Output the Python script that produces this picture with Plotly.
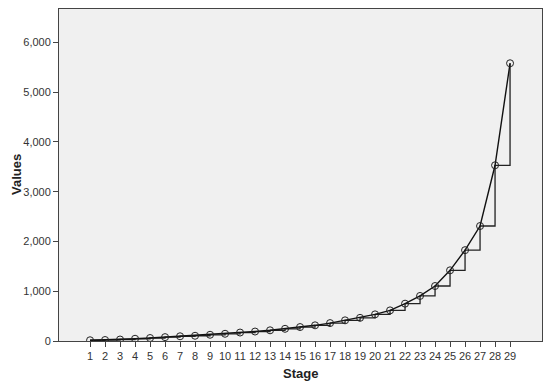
import plotly.graph_objects as go

# agglomeration stages and their coefficient values
stages = list(range(1, 30))
values = [15, 20, 30, 45, 60, 78, 95, 105, 125, 145, 170, 190, 215, 245, 280,
          315, 360, 415, 465, 535, 615, 750, 905, 1105, 1420, 1825, 2310, 3530, 5580]
y_ticks = [0, 1000, 2000, 3000, 4000, 5000, 6000]

fig = go.Figure()

# step line (horizontal then vertical)
fig.add_trace(go.Scatter(x=stages, y=values, mode="lines",
                         line=dict(color="#222222", width=1.3, shape="hv"),
                         hoverinfo="skip", showlegend=False))

# straight line with open circles
fig.add_trace(go.Scatter(x=stages, y=values, mode="lines+markers",
                         line=dict(color="#111111", width=1.4),
                         marker=dict(symbol="circle-open", size=7,
                                     color="#222222", line=dict(width=1)),
                         showlegend=False))

fig.update_layout(
    width=550, height=388,
    margin=dict(l=59, r=8, t=9, b=47),
    paper_bgcolor="white",
    plot_bgcolor="#F0F0F0",
    font=dict(family="Liberation Sans, Arial, sans-serif", size=11, color="#333333"),
    xaxis=dict(
        range=[-1.07, 31.13], automargin=False,
        tickmode="array", tickvals=stages, ticktext=[str(s) for s in stages],
        ticks="outside", ticklen=5, tickcolor="#444444",
        showgrid=False, zeroline=False,
        showline=True, linecolor="#444444", linewidth=1, mirror=True,
    ),
    yaxis=dict(
        range=[0, 6670], automargin=False,
        tickmode="array", tickvals=y_ticks,
        ticktext=[f"{v:,}" for v in y_ticks],
        ticks="outside", ticklen=5, tickcolor="#444444",
        showgrid=False, zeroline=False,
        showline=True, linecolor="#444444", linewidth=1, mirror=True,
    ),
    annotations=[
        dict(text="<b>Stage</b>", xref="paper", yref="paper", x=0.5, y=0,
             yshift=-32, yanchor="middle", showarrow=False,
             font=dict(size=13, color="#222222")),
        dict(text="<b>Values</b>", xref="paper", yref="paper", x=0, y=0.5,
             xshift=-43, xanchor="center", textangle=-90, showarrow=False,
             font=dict(size=13, color="#222222")),
    ],
)

# drop the browser's default body margin so the figure sits at the window corner
fig.write_html("out.html", config={"displayModeBar": False},
               post_script="document.body.style.margin='0';")
